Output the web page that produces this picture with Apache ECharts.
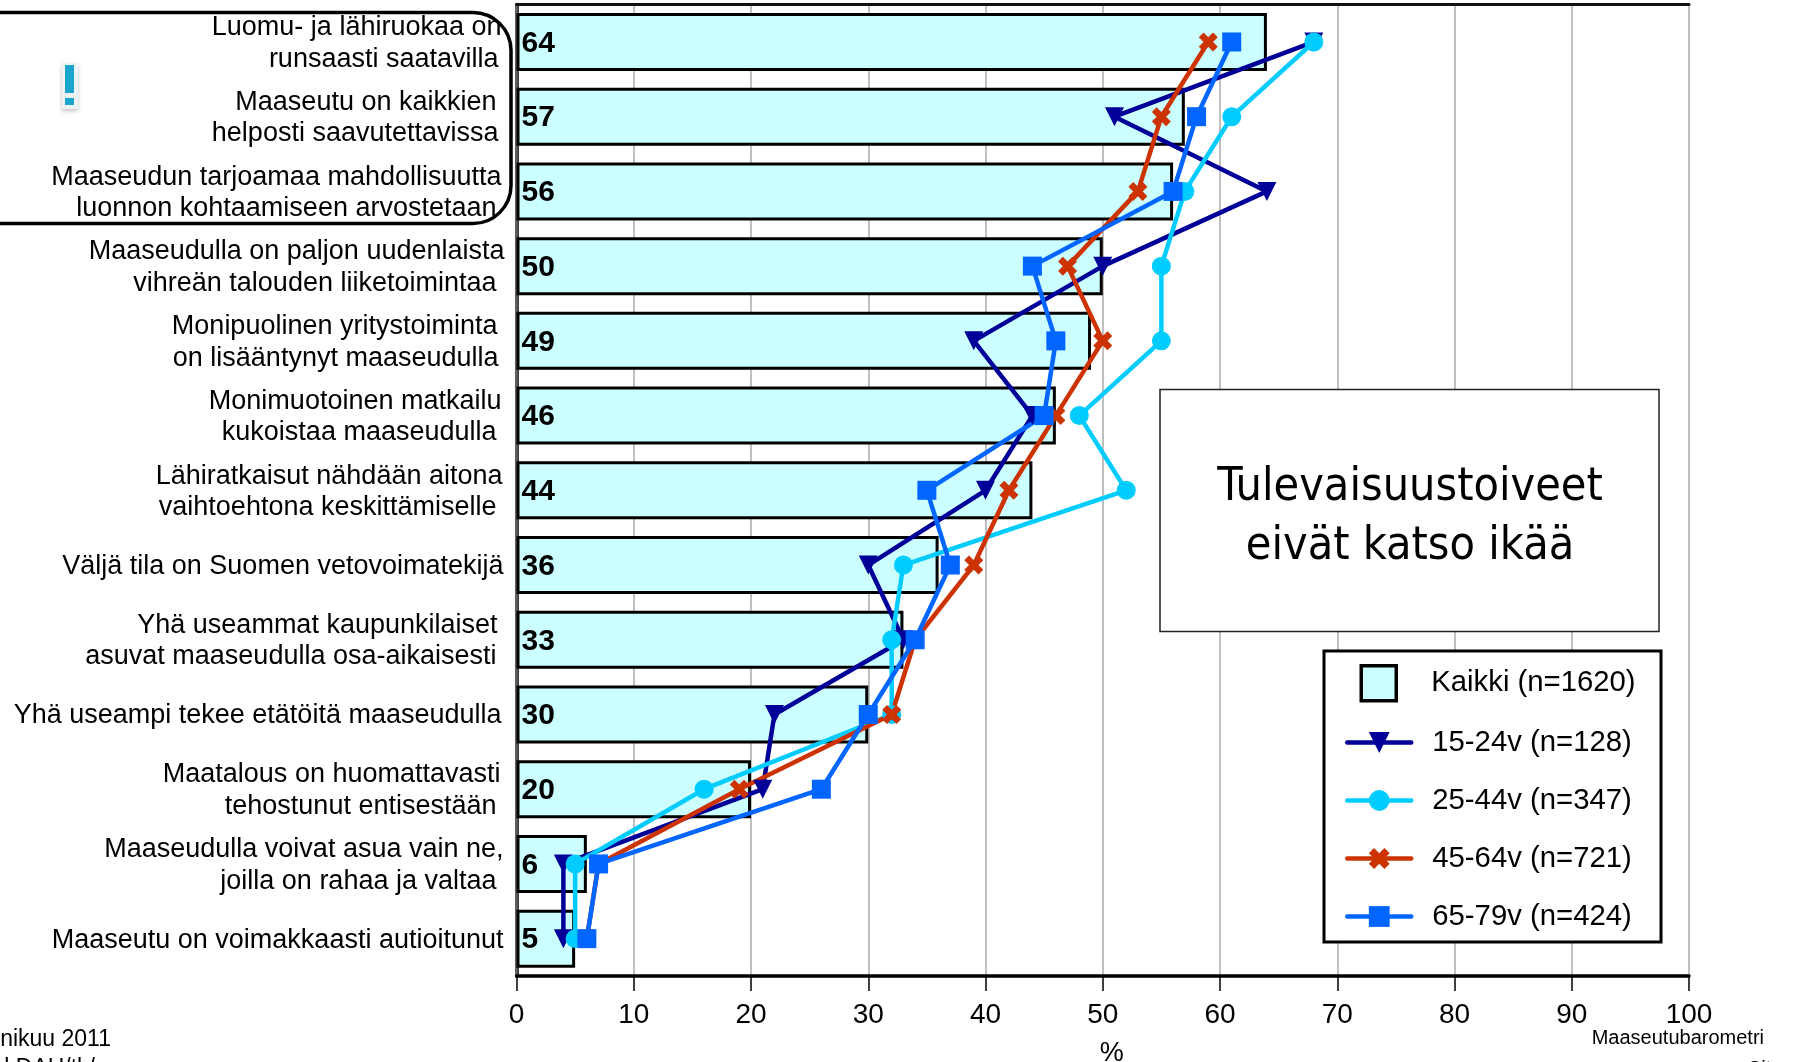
<!DOCTYPE html>
<html><head><meta charset="utf-8">
<style>html,body{margin:0;padding:0;background:#fff;overflow:hidden}#c{width:1803px;height:1062px}</style>
<script src="https://cdn.jsdelivr.net/npm/echarts@6/dist/echarts.min.js"></script>
</head><body><div id="c"></div>
<script>
const categories = [
 ['Luomu- ja lähiruokaa on','runsaasti saatavilla'],
 ['Maaseutu on kaikkien','helposti saavutettavissa'],
 ['Maaseudun tarjoamaa mahdollisuutta','luonnon kohtaamiseen arvostetaan'],
 ['Maaseudulla on paljon uudenlaista','vihreän talouden liiketoimintaa'],
 ['Monipuolinen yritystoiminta','on lisääntynyt maaseudulla'],
 ['Monimuotoinen matkailu','kukoistaa maaseudulla'],
 ['Lähiratkaisut nähdään aitona','vaihtoehtona keskittämiselle'],
 ['Väljä tila on Suomen vetovoimatekijä'],
 ['Yhä useammat kaupunkilaiset','asuvat maaseudulla osa-aikaisesti'],
 ['Yhä useampi tekee etätöitä maaseudulla'],
 ['Maatalous on huomattavasti','tehostunut entisestään'],
 ['Maaseudulla voivat asua vain ne,','joilla on rahaa ja valtaa'],
 ['Maaseutu on voimakkaasti autioitunut']
];
const kaikki = [64,57,56,50,49,46,44,36,33,30,20,6,5];
const age15to24 = [68,51,64,50,39,44,40,30,33,22,21,4,4];
const age25to44 = [68,61,57,55,55,48,52,33,32,32,16,5,5];
const age45to64 = [59,55,53,47,50,46,42,39,34,32,19,7,6];
const age65to79 = [61,58,56,44,46,45,35,37,34,30,26,7,6];
const seriesNames = ['Kaikki (n=1620)','15-24v (n=128)','25-44v (n=347)','45-64v (n=721)','65-79v (n=424)'];
const xTicks = [0,10,20,30,40,50,60,70,80,90,100];

const labelInsets = [[3,6],[8,6],[3,8],[0,8],[7,6],[3,8],[2,8],[1],[7,8],[3],[4,8],[1,8],[1]];
const rich = {};
[0,1,2,3,4,5,6,7,8].forEach(i => { rich['i'+i] = {fontFamily:'Liberation Sans',fontSize:27,color:'#000',lineHeight:31.5,padding:[0,i,0,0]}; });
const labelKey = categories.map((c,i)=>c.join('|'));

const FONT='Liberation Sans';
const triPath='path://M0 0H20L10 20Z';
const crossPath='path://M5 0L10 5L15 0L20 5L15 10L20 15L15 20L10 15L5 20L0 15L5 10L0 5Z';
function lineSeries(name,data,color,symbol){
  return {name,type:'line',data,symbol,symbolSize:19,showSymbol:true,
    lineStyle:{color,width:4.5},itemStyle:{color,borderWidth:0},z:3,silent:true};
}
const chart = echarts.init(document.getElementById('c'),null,{renderer:'canvas'});
chart.setOption({
  animation:false,backgroundColor:'#fff',
  grid:{left:516.5,right:114,top:4.6,bottom:86,containLabel:false,outerBoundsMode:'none'},
  title:{text:'Tulevaisuustoiveet\neivät katso ikää',left:1405,top:453,textAlign:'center',
    textStyle:{fontFamily:'DejaVu Sans Condensed',fontSize:46.3,fontWeight:'normal',color:'#000',lineHeight:59},z:6},
  xAxis:[
   {type:'value',min:0,max:100,interval:10,position:'bottom',
    name:'%',nameLocation:'middle',nameGap:64,nameTextStyle:{fontFamily:FONT,fontSize:27,color:'#000',padding:[0,0,0,18]},
    axisLine:{show:true,lineStyle:{color:'#000',width:3.5}},
    axisTick:{show:true,length:15,lineStyle:{color:'#000',width:1.5}},
    axisLabel:{fontFamily:FONT,fontSize:28,color:'#000',margin:25,hideOverlap:false,showMinLabel:true,showMaxLabel:true,
      formatter:v=>xTicks.includes(v)?String(v):''},
    splitLine:{show:true,lineStyle:{color:'#ABABAB',width:1.5}}},
   {type:'value',min:0,max:100,interval:10,position:'top',
    axisLine:{show:true,lineStyle:{color:'#111',width:3}},axisTick:{show:false},axisLabel:{show:false},splitLine:{show:false}}
  ],
  yAxis:[
   {type:'category',inverse:true,data:labelKey,position:'left',
    axisLine:{show:true,lineStyle:{color:'#000',width:3.5}},axisTick:{show:false},
    axisLabel:{interval:0,margin:12,align:'right',padding:[3,0,0,0],rich,
      formatter:(v,idx)=>categories[idx].map((l,j)=>`{i${labelInsets[idx][j]}|${l}}`).join('\n')}},
   {type:'category',inverse:true,data:labelKey,position:'right',
    axisLine:{show:true,lineStyle:{color:'#666',width:2.5}},axisTick:{show:false},axisLabel:{show:false},splitLine:{show:false}}
  ],
  legend:[
   {data:[{name:seriesNames[0],icon:'rect'}],left:1359.5,top:664,orient:'vertical',padding:0,
    itemWidth:35,itemHeight:35,itemStyle:{color:'#CCFFFF',borderColor:'#000',borderWidth:3.5},selectedMode:false,z:6,
    textStyle:{fontFamily:FONT,fontSize:29.3,color:'#000',padding:[0,0,0,30]}},
   {data:seriesNames.slice(1),left:1345,top:728,orient:'vertical',padding:0,itemGap:29,
    itemWidth:64,itemHeight:26,selectedMode:false,z:6,lineStyle:{width:4.5,cap:'round'},
    textStyle:{fontFamily:FONT,fontSize:29.3,color:'#000',lineHeight:26,padding:[0,0,0,16]}}
  ],
  series:[
   {name:seriesNames[0],type:'bar',data:kaikki,barWidth:58,z:2,silent:true,
    itemStyle:{color:'#CCFFFF',borderColor:'#000',borderWidth:3},
    label:{show:true,position:'insideLeft',distance:5,offset:[0,1.5],fontFamily:FONT,fontWeight:'bold',fontSize:30,color:'#000'}},
   lineSeries(seriesNames[1],age15to24,'#000099',triPath),
   lineSeries(seriesNames[2],age25to44,'#00CCFF','circle'),
   lineSeries(seriesNames[3],age45to64,'#CC3300',crossPath),
   lineSeries(seriesNames[4],age65to79,'#0066FF','rect')
  ],
  graphic:[
   {type:'rect',z:4,shape:{x:1324,y:651,width:337,height:291},style:{fill:'#fff',stroke:'#000',lineWidth:3}},
   {type:'rect',z:4,shape:{x:1160,y:389.5,width:499,height:242},style:{fill:'#fff',stroke:'#222',lineWidth:1.5}},
   {type:'rect',z:4,shape:{x:-60,y:12.5,width:571,height:211,r:[38,38,38,38]},style:{fill:'none',stroke:'#000',lineWidth:3.5}},
   {type:'rect',z:4,shape:{x:62,y:63,width:16,height:46,r:2},style:{fill:'#EEF4F6',shadowBlur:4,shadowColor:'rgba(0,0,0,.25)',shadowOffsetY:2}},
   {type:'rect',z:5,shape:{x:65,y:65,width:9,height:28},style:{fill:'#1AA5CC'}},
   {type:'rect',z:5,shape:{x:65,y:98,width:9,height:7},style:{fill:'#1AA5CC'}},
   {type:'text',z:5,style:{text:'nikuu 2011',x:111,y:1040,align:'right',verticalAlign:'middle',font:'23px "Liberation Sans"',fill:'#000'}},
   {type:'text',z:5,style:{text:'l DAH/tl /',x:95,y:1069,align:'right',verticalAlign:'middle',font:'23px "Liberation Sans"',fill:'#000'}},
   {type:'text',z:5,style:{text:'Maaseutubarometri',x:1764,y:1038,align:'right',verticalAlign:'middle',font:'20px "Liberation Sans"',fill:'#000'}},
   {type:'text',z:5,style:{text:'Sitra',x:1748,y:1069,align:'left',verticalAlign:'middle',font:'20px "Liberation Sans"',fill:'#000'}}
  ]
});
</script></body></html>
